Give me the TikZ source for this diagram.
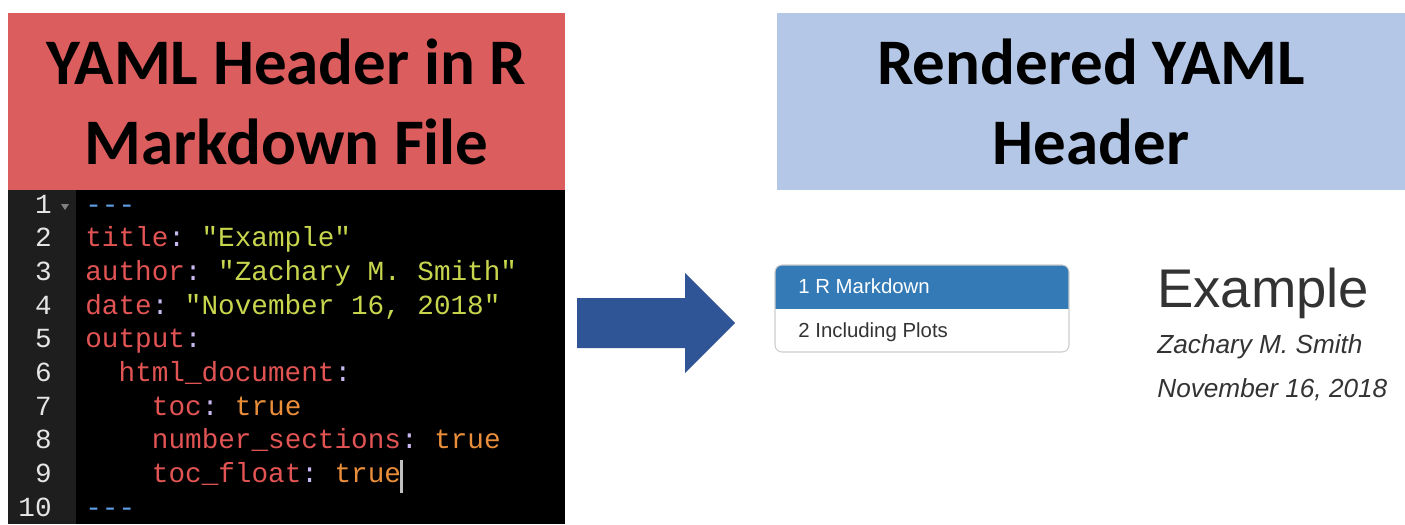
\documentclass[tikz,border=0pt]{standalone}
\usepackage{fontspec}
\setmainfont{Liberation Sans}
\setmonofont{Liberation Mono}
\newfontfamily\calibri{Carlito}
\usetikzlibrary{positioning}

\definecolor{headred}{RGB}{219,93,93}
\definecolor{headblue}{RGB}{180,199,231}
\definecolor{arrowblue}{RGB}{47,85,151}
\definecolor{gutter}{RGB}{30,30,30}
\definecolor{yamlkey}{RGB}{226,84,84}
\definecolor{yamlstr}{RGB}{200,214,78}
\definecolor{yamltrue}{RGB}{234,142,58}
\definecolor{yamldash}{RGB}{94,156,228}
\definecolor{yamlcolon}{RGB}{200,184,240}
\definecolor{tocblue}{RGB}{51,122,183}
\definecolor{tocborder}{RGB}{204,204,204}
\definecolor{pagetext}{RGB}{51,51,51}

\newcommand{\yk}[1]{\textcolor{yamlkey}{#1}}
\newcommand{\ys}[1]{\textcolor{yamlstr}{#1}}
\newcommand{\yt}[1]{\textcolor{yamltrue}{#1}}
\newcommand{\yc}{\textcolor{yamlcolon}{:}}
\newcommand{\codefont}{\ttfamily\fontsize{15.75}{19}\selectfont}

\tikzset{headbox/.style={rectangle, align=center, inner sep=0, minimum height=3.54cm,
                         font=\calibri\bfseries\fontsize{37}{45.5}\selectfont}}
\tikzset{codeline/.style={anchor=base west, inner sep=0, font=\codefont}}
\tikzset{linenum/.style={anchor=base east, inner sep=0, font=\codefont, text=white!90!black}}

\begin{document}
\begin{tikzpicture}[x=0.02cm,y=-0.02cm]

\useasboundingbox (0,0) rectangle (1405,524);

% headers
\node [headbox, fill=headred, minimum width=11.14cm] (rmdhead) at (286.5,101.5) {YAML Header in R\\Markdown File};
\node [headbox, fill=headblue, minimum width=12.56cm] (renderhead) at (1091,101.5) {Rendered YAML\\Header};

% editor
\fill [black] (8,190) rectangle (565,524);
\fill [gutter] (8,190) rectangle (76,524);
\foreach \n in {1,...,10}
  \node [linenum] (num\n) at (52,{213+(\n-1)*33.7}) {\n};
\fill [gray] (61,204) -- (69,204) -- (65,210) -- cycle;

\node [codeline] (l1) at (85,213) {\textcolor{yamldash}{-{}-{}-}};
\node [codeline] (l2) at (85,246.7) {\yk{title}\yc{} \ys{"Example"}};
\node [codeline] (l3) at (85,280.4) {\yk{author}\yc{} \ys{"Zachary M. Smith"}};
\node [codeline] (l4) at (85,314.1) {\yk{date}\yc{} \ys{"November 16, 2018"}};
\node [codeline] (l5) at (85,347.8) {\yk{output}\yc};
\node [codeline] (l6) at (118.3,381.5) {\yk{html\_document}\yc};
\node [codeline] (l7) at (151.6,415.2) {\yk{toc}\yc{} \yt{true}};
\node [codeline] (l8) at (151.6,448.9) {\yk{number\_sections}\yc{} \yt{true}};
\node [codeline] (l9) at (151.6,482.6) {\yk{toc\_float}\yc{} \yt{true}};
\node [codeline] (l10) at (85,516.3) {\textcolor{yamldash}{-{}-{}-}};
\fill [white!75!black] (400,460) rectangle (403,493);

% arrow
\fill [arrowblue] (577,298) -- (685,298) -- (685,273) -- (735,323) -- (685,373) -- (685,348) -- (577,348) -- cycle;

% rendered toc
\begin{scope}
  \clip [rounded corners=4] (775,265) rectangle (1069,352);
  \fill [tocblue] (775,265) rectangle (1069,309);
\end{scope}
\draw [tocborder, line width=0.6pt, rounded corners=4] (775,265) rectangle (1069,352);
\node [anchor=base west, inner sep=0, font=\fontsize{11.6}{14}\selectfont, text=white] (toc1) at (798,293) {1 R Markdown};
\node [anchor=base west, inner sep=0, font=\fontsize{11.6}{14}\selectfont, text=pagetext] (toc2) at (798,337) {2 Including Plots};

% rendered title
\node [anchor=base west, inner sep=0, font=\fontsize{31}{37}\selectfont, text=pagetext] (title) at (1157,307) {Example};
\node [anchor=base west, inner sep=0, font=\itshape\fontsize{14.9}{18}\selectfont, text=pagetext] (author) at (1157,353) {Zachary M. Smith};
\node [anchor=base west, inner sep=0, font=\itshape\fontsize{14.9}{18}\selectfont, text=pagetext] (date) at (1157,397) {November 16, 2018};

\end{tikzpicture}
\end{document}
